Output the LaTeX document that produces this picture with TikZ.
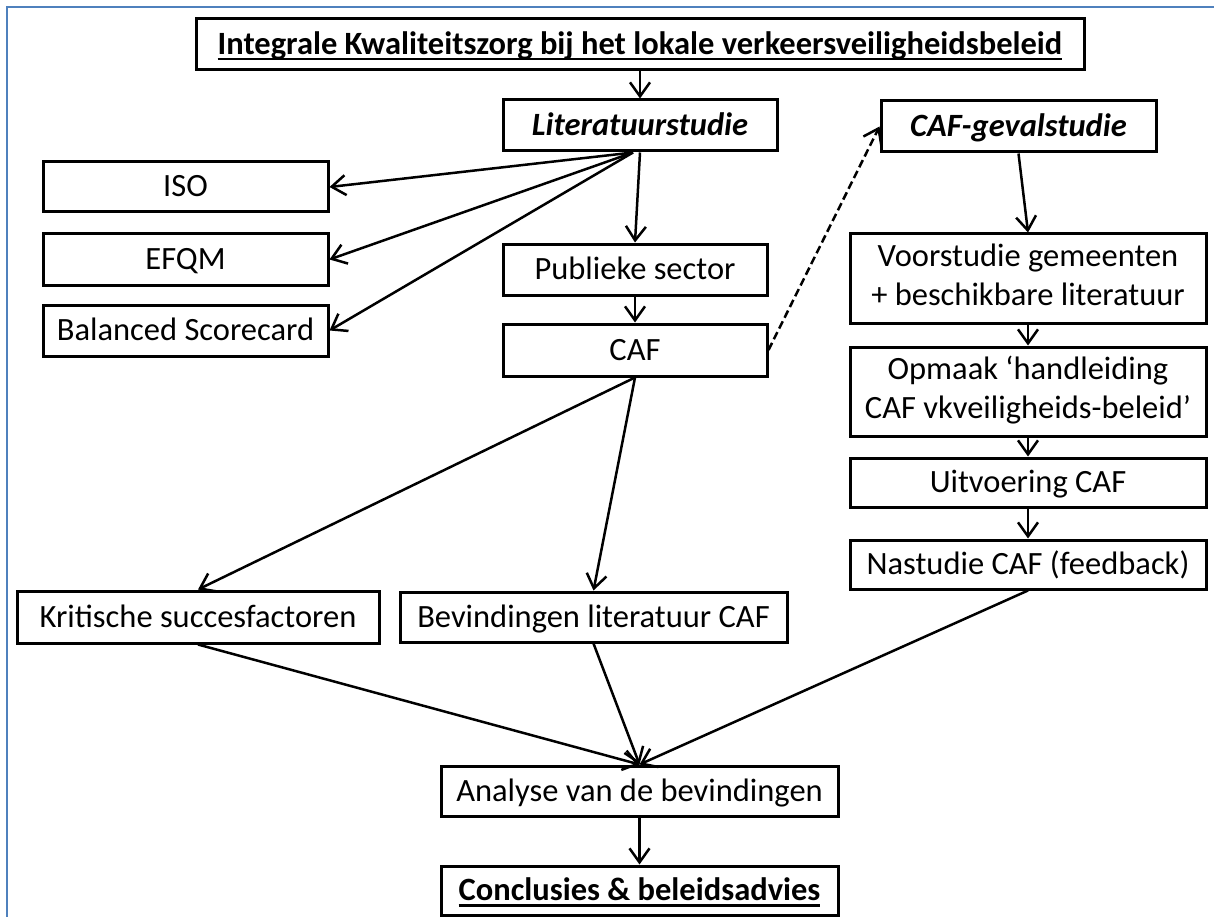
\documentclass[tikz,border=0pt]{standalone}
\usepackage{fontspec}
\setmainfont{Carlito}
\usetikzlibrary{arrows.meta}
\definecolor{frameblue}{RGB}{79,129,189}
% underlined text: a rule placed 4pt below the baseline
\newcommand{\undl}[1]{\sbox0{#1}\makebox[0pt][l]{\raisebox{-6pt}{\rule{\wd0}{2.2pt}}}\usebox0}
% fixed line height so every label sits at the same level in its box
\newcommand{\bx}{\rule[-8pt]{0pt}{36pt}}
\begin{document}
\begin{tikzpicture}[x=1pt,y=-1pt,
  box/.style={draw=black,line width=3pt,fill=white,inner sep=0pt,align=center,
    font=\fontsize{32.5}{39}\selectfont,execute at begin node=\bx},
  sz/.style 2 args={minimum width=#1pt,minimum height=#2pt},
  link/.style={line width=2.5pt,-{Straight Barb[length=14pt,width=20pt]}},
  dlink/.style={link,dash pattern=on 8pt off 4pt}]
\useasboundingbox (0,0) rectangle (1214,917);
\fill[white] (0,0) rectangle (1214,917);
% page frame (top and left edges only)
\draw[frameblue,line width=2pt] (7,917) -- (7,7) -- (1214,7);

% title
\node[box,sz={888}{51}] (title) at (640,44.5)
  {\undl{\textbf{Integrale Kwaliteitszorg bij het lokale verkeersveiligheidsbeleid}}};

% literature branch
\node[box,sz={274}{51}] (lit) at (640,125.5) {\textbf{\textit{Literatuurstudie}}};
\node[box,sz={285}{50}] (iso) at (185.5,187) {ISO};
\node[box,sz={285}{51}] (efqm) at (185.5,259.5) {EFQM};
\node[box,sz={285}{51}] (bsc) at (185.5,330.5) {Balanced Scorecard};
\node[box,sz={264}{51}] (pub) at (635,269.5) {Publieke sector};
\node[box,sz={264}{52}] (caf) at (635,350) {CAF};

% case-study branch
\node[box,sz={275}{51}] (cg) at (1018.5,126.5) {\textbf{\textit{CAF-gevalstudie}}};
\node[box,sz={356}{89}] (voor) at (1028,278.5) {Voorstudie gemeenten\\\bx + beschikbare literatuur};
\node[box,sz={356}{89}] (opm) at (1028,391.5) {Opmaak ‘handleiding\\\bx CAF vkveiligheids-beleid’};
\node[box,sz={356}{49}] (uit) at (1028,482.5) {Uitvoering CAF};
\node[box,sz={356}{49}] (nas) at (1028,564.5) {Nastudie CAF (feedback)};

% findings
\node[box,sz={362}{52}] (kr) at (198,617) {Kritische succesfactoren};
\node[box,sz={387}{50}] (bev) at (593.5,617) {Bevindingen literatuur CAF};
\node[box,sz={397}{50}] (an) at (639.5,791) {Analyse van de bevindingen};
\node[box,sz={397}{49}] (con) at (639.5,890.5) {\undl{\textbf{Conclusies \& beleidsadvies}}};

% connectors
\draw[link] (title) -- (lit);
\draw[link] ([xshift=-7pt]lit.south) -- (iso.east);
\draw[link] ([xshift=-7pt]lit.south) -- (efqm.east);
\draw[link] ([xshift=-7pt]lit.south) -- (bsc.east);
\draw[link] (lit.south) -- (pub.north);
\draw[link] (pub) -- (caf);
\draw[dlink] (caf.east) -- (cg.west);
\draw[link] (caf.south) -- (kr.north);
\draw[link] (caf.south) -- (bev.north);
\draw[link] (cg.south) -- (voor.north);
\draw[link] (voor) -- (opm);
\draw[link] (opm) -- (uit);
\draw[link] (uit) -- (nas);
\draw[link] (kr.south) -- (an.north);
\draw[link] (bev.south) -- (an.north);
\draw[link] (nas.south) -- (an.north);
\draw[link] (an) -- (con);
\end{tikzpicture}
\end{document}
